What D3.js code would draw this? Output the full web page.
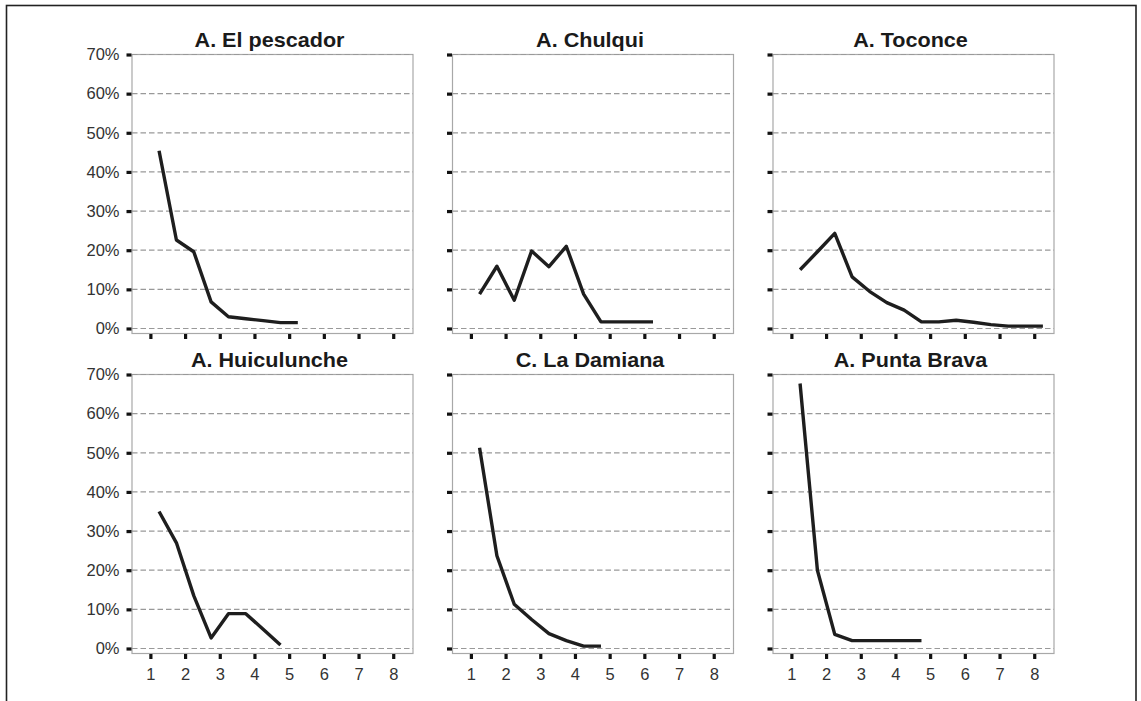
<!DOCTYPE html>
<html>
<head>
<meta charset="utf-8">
<script src="https://cdn.jsdelivr.net/npm/d3@7"></script>
<style>
  html, body { margin: 0; padding: 0; background: #fff; }
  svg { display: block; font-family: "Liberation Sans", Arial, Helvetica, sans-serif; }
</style>
</head>
<body>
<svg id="chart" width="1141" height="701"></svg>
<script>
// Panel titles, in reading order (two rows of three)
const titles = ["A. El pescador", "A. Chulqui", "A. Toconce",
                "A. Huiculunche", "C. La Damiana", "A. Punta Brava"];

// Positions along the x axis where each series has a value
const positions = [1.25, 1.75, 2.25, 2.75, 3.25, 3.75, 4.25, 4.75,
                   5.25, 5.75, 6.25, 6.75, 7.25, 7.75, 8.25];

// Percentages per site
const elPescador  = [45.4, 22.6, 19.6, 6.8, 3.0, 2.5, 2.0, 1.5, 1.5];
const chulqui     = [8.8, 15.9, 7.2, 19.8, 15.8, 21.0, 8.8, 1.7, 1.7, 1.7, 1.7];
const toconce     = [15.0, 19.6, 24.3, 13.2, 9.5, 6.6, 4.7, 1.7, 1.7, 2.1, 1.6, 1.0, 0.6, 0.6, 0.6];
const huiculunche = [35.0, 27.0, 13.5, 2.7, 8.9, 8.9, 4.9, 0.9];
const laDamiana   = [51.3, 23.7, 11.3, 7.4, 3.8, 2.0, 0.6, 0.6];
const puntaBrava  = [67.7, 20.0, 3.6, 2.0, 2.0, 2.0, 2.0, 2.0];

// Axis ticks
const yTicks = [0, 10, 20, 30, 40, 50, 60, 70];
const xTicks = [1, 2, 3, 4, 5, 6, 7, 8];

const seriesList = [elPescador, chulqui, toconce, huiculunche, laDamiana, puntaBrava];

const svg = d3.select("#chart");

// Outer frame
svg.append("rect")
  .attr("x", 6.5).attr("y", 5.5)
  .attr("width", 1129.5).attr("height", 720)
  .attr("fill", "none").attr("stroke", "#222").attr("stroke-width", 1.6);

// Panel geometry
const left0 = 132, colPitch = 320.5, plotW = 281;
const top0 = 54.5, rowPitch = 320, plotH = 279;

const x = d3.scaleLinear().domain([0.47, 8.57]).range([0, plotW]);
const y = d3.scaleLinear().domain([-1.28, 70]).range([plotH, 0]);

const line = d3.line()
  .x(d => x(d[0]))
  .y(d => y(d[1]));

const labelFont = "'Liberation Sans', Arial, sans-serif";

seriesList.forEach((values, i) => {
  const col = i % 3, row = Math.floor(i / 3);
  const g = svg.append("g")
    .attr("transform", `translate(${left0 + col * colPitch},${top0 + row * rowPitch})`);

  // Plot frame
  g.append("rect")
    .attr("x", 0).attr("y", 0)
    .attr("width", plotW).attr("height", plotH)
    .attr("fill", "none").attr("stroke", "#a8a8a8").attr("stroke-width", 1.2);

  // Dashed horizontal gridlines
  g.selectAll("line.grid").data(yTicks).enter().append("line")
    .attr("class", "grid")
    .attr("x1", 0).attr("x2", plotW)
    .attr("y1", d => y(d)).attr("y2", d => y(d))
    .attr("stroke", "#999").attr("stroke-width", 1.2)
    .attr("stroke-dasharray", "5.5,3");

  // Y ticks (labels only on the first column)
  const yAxis = d3.axisLeft(y).tickValues(yTicks).tickSize(5).tickPadding(7)
    .tickFormat(col === 0 ? (d => d + "%") : () => "");
  const ya = g.append("g").attr("transform", "translate(-0.5,0)").call(yAxis);
  ya.attr("font-size", 16.5).attr("font-family", labelFont);
  ya.select(".domain").remove();
  ya.selectAll(".tick line").attr("stroke", "#111").attr("stroke-width", 3.2);
  ya.selectAll(".tick text").attr("fill", "#333");

  // X ticks (labels only on the bottom row)
  const xAxis = d3.axisBottom(x).tickValues(xTicks).tickSize(5).tickPadding(9.5)
    .tickFormat(row === 1 ? (d => d) : () => "");
  const xa = g.append("g").attr("transform", `translate(0,${plotH + 0.5})`).call(xAxis);
  xa.attr("font-size", 16.5).attr("font-family", labelFont);
  xa.select(".domain").remove();
  xa.selectAll(".tick line").attr("stroke", "#111").attr("stroke-width", 3.2);
  xa.selectAll(".tick text").attr("fill", "#333");

  // Series line
  const pts = values.map((v, k) => [positions[k], v]);
  g.append("path")
    .datum(pts)
    .attr("d", line)
    .attr("fill", "none")
    .attr("stroke", "#1e1e1e")
    .attr("stroke-width", 3.4)
    .attr("stroke-linejoin", "round")
    .attr("stroke-linecap", "butt");

  // Title
  g.append("text")
    .attr("transform", `translate(${plotW / 2 - 3},-8) scale(1.08,1)`)
    .attr("text-anchor", "middle")
    .attr("font-size", 20)
    .attr("font-weight", "bold")
    .attr("fill", "#1a1a1a")
    .text(titles[i]);
});
</script>
</body>
</html>
